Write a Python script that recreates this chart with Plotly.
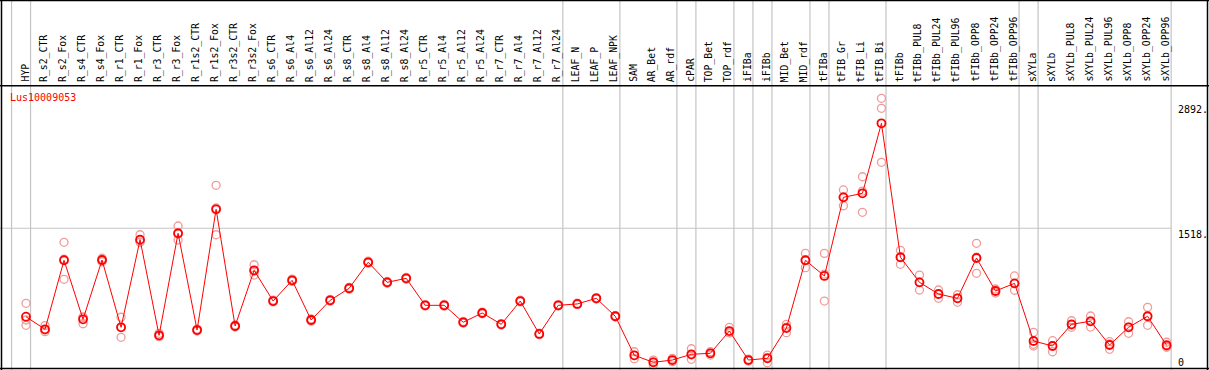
import plotly.graph_objects as go

categories = ["HYP", "R_s2_CTR", "R_s2_Fox", "R_s4_CTR", "R_s4_Fox", "R_r1_CTR", "R_r1_Fox",
              "R_r3_CTR", "R_r3_Fox", "R_r1s2_CTR", "R_r1s2_Fox", "R_r3s2_CTR", "R_r3s2_Fox",
              "R_s6_CTR", "R_s6_Al4", "R_s6_Al12", "R_s6_Al24", "R_s8_CTR", "R_s8_Al4", "R_s8_Al12",
              "R_s8_Al24", "R_r5_CTR", "R_r5_Al4", "R_r5_Al12", "R_r5_Al24", "R_r7_CTR", "R_r7_Al4",
              "R_r7_Al12", "R_r7_Al24", "LEAF_N", "LEAF_P", "LEAF_NPK", "SAM", "AR_Bet", "AR_rdf",
              "cPAR", "TOP_Bet", "TOP_rdf", "iFIBa", "iFIBb", "MID_Bet", "MID_rdf", "tFIBa",
              "tFIB_Gr", "tFIB_Li", "tFIB_Bi", "tFIBb", "tFIBb_PUL8", "tFIBb_PUL24", "tFIBb_PUL96",
              "tFIBb_OPP8", "tFIBb_OPP24", "tFIBb_OPP96", "sXYLa", "sXYLb", "sXYLb_PUL8",
              "sXYLb_PUL24", "sXYLb_PUL96", "sXYLb_OPP8", "sXYLb_OPP24", "sXYLb_OPP96"]

mean_values = [548, 410, 1167, 520, 1170, 432, 1393, 344, 1463, 402, 1726, 446, 1057,
               720, 947, 512, 728, 860, 1145, 925, 969, 673, 673, 487, 589, 465, 720, 359, 673,
               688, 750, 553, 125, 48, 73, 136, 147, 391, 73, 92, 424, 1167, 995,
               1857, 1901, 2669, 1200, 925, 797, 750, 1192, 830, 914, 282, 227, 465, 498,
               238, 432, 553, 235]

rep1 = [695, 450, 1364, 542, 1189, 542, 1447, 366, 1543, 413, 1989, 457, 1118,
        710, 935, 500, 718, 850, 1135, 915, 960, 665, 664, 478, 580, 457, 711, 351, 665,
        680, 742, 545, 164, 73, 92, 197, 164, 432, 84, 128, 465, 1243, 1243,
        1938, 2083, 2943, 1276, 1005, 841, 789, 1353, 852, 995, 377, 285, 504, 556,
        274, 493, 651, 268]
rep2 = [512, 402, 958, 471, 1170, 322, 1364, 329, 1389, 402, 1447, 446, 1005,
        720, 947, 512, 728, 860, 1145, 925, 969, 673, 673, 487, 589, 465, 720, 359, 673,
        688, 750, 553, 88, 19, 55, 81, 128, 373, 62, 44, 373, 1086, 720,
        1765, 1693, 2833, 1123, 841, 750, 706, 1024, 830, 838, 227, 164, 432, 435,
        191, 366, 454, 213]
rep3 = [454, 384, 1178, 545, 1151, 432, 1382, 337, 1455, 391, 1740, 435, 1046,
        730, 960, 525, 738, 870, 1156, 935, 979, 681, 682, 496, 598, 473, 729, 367, 681,
        696, 758, 561, 123, 52, 73, 128, 147, 370, 73, 103, 435, 1170, 1016,
        1864, 1926, 2241, 1200, 929, 797, 753, 1200, 808, 910, 246, 230, 457, 501,
        249, 435, 553, 224]

y_tick_values = [2892, 1518, 0]
y_tick_labels = ["2892.", "1518.", "0"]
gene_name = "Lus10009053"
group_breaks_after = [-1, 0, 28, 31, 34, 35, 37, 38, 39, 41, 42, 45, 52, 53, 60]

W, H = 1209, 370
step = 19.01
x0 = -26 / step
x1 = x0 + W / step
y_per_px = 0.0912
y1 = 366.7 / y_per_px
y0 = y1 - H / y_per_px

xs = list(range(len(categories)))
FONT = "DejaVu Sans Mono"
GRAY = "#c4c4c4"

fig = go.Figure()

rep_x = xs * 3
rep_y = rep1 + rep2 + rep3
fig.add_trace(go.Scatter(x=rep_x, y=rep_y, mode="markers",
                         marker=dict(symbol="circle-open", size=8, color="#f19a9a",
                                     line=dict(width=1.3, color="#f19a9a")),
                         hoverinfo="skip"))
fig.add_trace(go.Scatter(x=xs, y=mean_values, mode="lines+markers",
                         line=dict(color="#ff0000", width=1),
                         marker=dict(symbol="circle-open", size=8, color="#ff0000",
                                     line=dict(width=1.8, color="#ff0000")),
                         hoverinfo="skip"))

shapes = []
for b in group_breaks_after:
    xv = b + 0.24
    shapes.append(dict(type="line", xref="x", yref="paper", x0=xv, x1=xv, y0=0, y1=1,
                       line=dict(color=GRAY, width=1.2), layer="below"))
# horizontal grid line at middle tick
xr_end = (group_breaks_after[-1] + 0.24 - x0) / (x1 - x0)
shapes.append(dict(type="line", xref="paper", yref="y", x0=0, x1=xr_end,
                   y0=y_tick_values[1], y1=y_tick_values[1],
                   line=dict(color=GRAY, width=1.2), layer="below"))
# frame
hdr = 1 - 85.7 / H
for s in [dict(x0=0, x1=1, y0=hdr, y1=hdr), dict(x0=0, x1=1, y0=1 - 0.5 / H, y1=1 - 0.5 / H),
          dict(x0=0, x1=1, y0=1.5 / H, y1=1.5 / H),
          dict(x0=1.5 / W, x1=1.5 / W, y0=0, y1=1), dict(x0=1 - 1.5 / W, x1=1 - 1.5 / W, y0=0, y1=1)]:
    shapes.append(dict(type="line", xref="paper", yref="paper", line=dict(color="black", width=1.5), **s))

annotations = []
for i, c in enumerate(categories):
    annotations.append(dict(x=i, xref="x", xshift=-1.5, y=1 - 83 / H, yref="paper",
                            text=c, textangle=-90, showarrow=False, xanchor="center",
                            yanchor="bottom", borderpad=0,
                            font=dict(family=FONT, size=9.8, color="black")))
annotations.append(dict(x=9 / W, xref="paper", y=1 - 98 / H, yref="paper", text=gene_name,
                        showarrow=False, xanchor="left", yanchor="middle", borderpad=0,
                        font=dict(family=FONT, size=10, color="#ff0000")))
for v, t in zip(y_tick_values, y_tick_labels):
    yy = v if v > 0 else 0
    annotations.append(dict(x=1177 / W, xref="paper", y=yy, yref="y", text=t,
                            showarrow=False, xanchor="left",
                            yanchor="top" if v > 0 else "bottom",
                            yshift=0 if v > 0 else -2, borderpad=0,
                            font=dict(family=FONT, size=10, color="black")))

fig.update_layout(width=W, height=H, margin=dict(l=0, r=0, t=0, b=0),
                  paper_bgcolor="white", plot_bgcolor="white", showlegend=False,
                  shapes=shapes, annotations=annotations, hovermode=False,
                  xaxis=dict(range=[x0, x1], visible=False, showgrid=False, zeroline=False),
                  yaxis=dict(range=[y0, y1], visible=False, showgrid=False, zeroline=False))

fig.write_html("out.html", config={"displayModeBar": False},
               post_script="document.body.style.margin='0';document.body.style.padding='0';")
